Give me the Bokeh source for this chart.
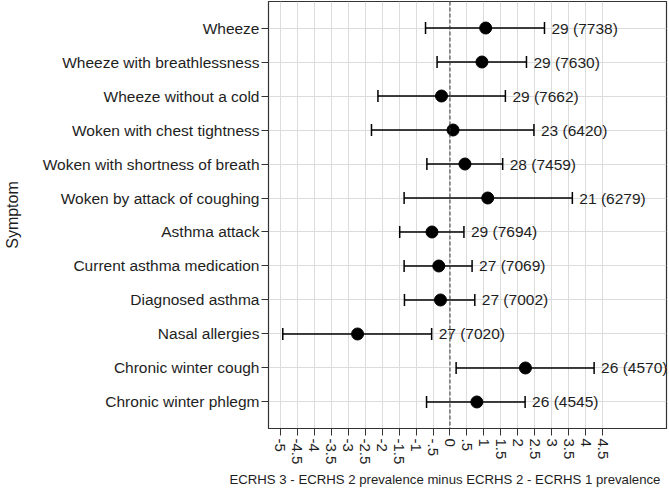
import math
from bokeh.plotting import figure
from bokeh.models import (ColumnDataSource, FactorRange, Range1d, FixedTicker,
                          Span, Title)
from bokeh.core.properties import value
from bokeh.embed import file_html
from bokeh.resources import INLINE

categories = ["Wheeze", "Wheeze with breathlessness", "Wheeze without a cold",
              "Woken with chest tightness", "Woken with shortness of breath",
              "Woken by attack of coughing", "Asthma attack",
              "Current asthma medication", "Diagnosed asthma", "Nasal allergies",
              "Chronic winter cough", "Chronic winter phlegm"]
estimate = [1.05, 0.94, -0.25, 0.09, 0.44, 1.11, -0.53, -0.33, -0.28, -2.72, 2.22, 0.79]
lower = [-0.72, -0.38, -2.12, -2.31, -0.68, -1.35, -1.48, -1.35, -1.34, -4.92, 0.18, -0.69]
upper = [2.78, 2.25, 1.63, 2.47, 1.55, 3.60, 0.41, 0.65, 0.73, -0.54, 4.24, 2.21]
annotations = ["29 (7738)", "29 (7630)", "29 (7662)", "23 (6420)", "28 (7459)",
               "21 (6279)", "29 (7694)", "27 (7069)", "27 (7002)", "27 (7020)",
               "26 (4570)", "26 (4545)"]
x_ticks = [-5, -4.5, -4, -3.5, -3, -2.5, -2, -1.5, -1, -0.5,
           0, 0.5, 1, 1.5, 2, 2.5, 3, 3.5, 4, 4.5]
x_tick_labels = ["-5", "-4.5", "-4", "-3.5", "-3", "-2.5", "-2", "-1.5", "-1", "-.5",
                 "0", ".5", "1", "1.5", "2", "2.5", "3", "3.5", "4", "4.5"]
x_title = "ECRHS 3 - ECRHS 2 prevalence minus ECRHS 2 - ECRHS 1 prevalence"
y_title = "Symptom"

FONT = "Liberation Sans"
TXT = "#1e1e1e"
DARK = "#333333"

src = ColumnDataSource(dict(cat=categories, est=estimate, lo=lower, hi=upper,
                            lab=annotations))

p = figure(width=669, height=488, output_backend="svg", toolbar_location=None,
           x_range=Range1d(-5.34, 6.37),
           y_range=FactorRange(factors=categories[::-1], range_padding=0.28,
                               range_padding_units="absolute"),
           min_border_left=266, min_border_right=3, min_border_top=1,
           min_border_bottom=0)

p.background_fill_color = "white"
p.border_fill_color = "white"
p.outline_line_color = DARK
p.outline_line_width = 1.2

# grids
p.xgrid.ticker = FixedTicker(ticks=x_ticks)
p.xgrid.grid_line_color = "#dcdcdc"
p.xgrid.grid_line_width = 1
p.ygrid.grid_line_color = "#dcdcdc"
p.ygrid.grid_line_width = 1

# x axis
xa = p.xaxis[0]
xa.ticker = FixedTicker(ticks=x_ticks)
xa.major_label_overrides = {t: l for t, l in zip(x_ticks, x_tick_labels)}
xa.major_label_orientation = -math.pi / 2
xa.major_label_text_font = FONT
xa.major_label_text_font_size = "15px"
xa.major_label_text_color = TXT
xa.major_label_standoff = 3
xa.major_tick_out = 7
xa.major_tick_in = 0
xa.minor_tick_out = 0
xa.minor_tick_in = 0
xa.axis_line_color = DARK
xa.major_tick_line_color = DARK

# y axis
ya = p.yaxis[0]
ya.major_label_text_font = FONT
ya.major_label_text_font_size = "15.5px"
ya.major_label_text_color = TXT
ya.major_label_standoff = 2
ya.major_tick_out = 7
ya.major_tick_in = 0
ya.axis_line_color = DARK
ya.major_tick_line_color = DARK
ya.axis_label = y_title
ya.axis_label_text_font = FONT
ya.axis_label_text_font_size = "16px"
ya.axis_label_text_font_style = "normal"
ya.axis_label_text_color = TXT
ya.axis_label_standoff = 19

# zero reference line
p.add_layout(Span(location=0, dimension="height", line_color=DARK,
                  line_width=1, line_dash="4 2"))

# confidence intervals
p.segment(x0="lo", y0="cat", x1="hi", y1="cat", source=src,
          line_color="black", line_width=1.5)
p.scatter(x="lo", y="cat", source=src, marker="dash", angle=math.pi / 2,
          size=12, line_color="black", line_width=1.5)
p.scatter(x="hi", y="cat", source=src, marker="dash", angle=math.pi / 2,
          size=12, line_color="black", line_width=1.5)
# point estimates
p.scatter(x="est", y="cat", source=src, marker="circle", size=12,
          fill_color="black", line_color="black")
# annotations
p.text(x="hi", y="cat", text="lab", source=src, x_offset=7,
       text_baseline="middle", text_align="left",
       text_font=value(FONT), text_font_size="15.5px", text_color=TXT)

# x title
p.add_layout(Title(text=x_title, align="left", offset=-39,
                   text_font=FONT, text_font_size="13.2px",
                   text_font_style="normal", text_color=TXT, standoff=4),
             "below")

open("out.html", "w").write(file_html(p, INLINE))
